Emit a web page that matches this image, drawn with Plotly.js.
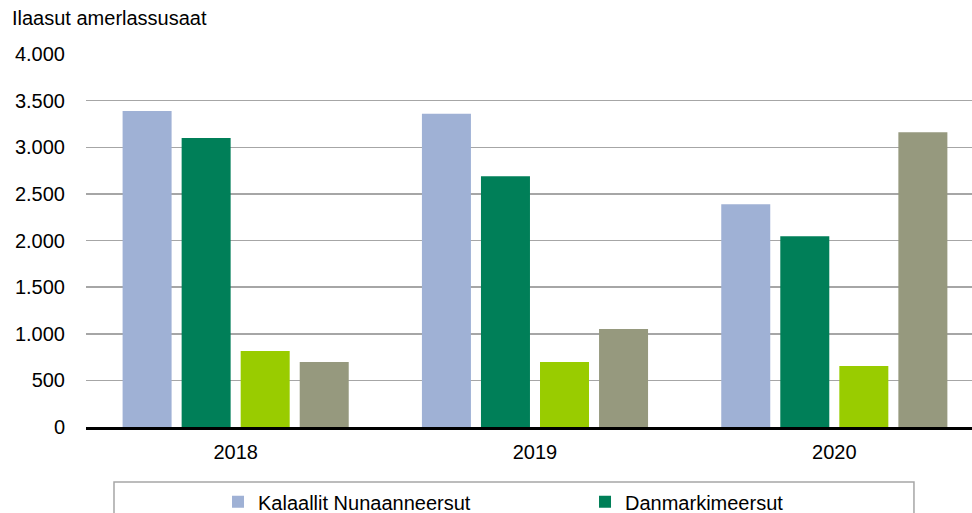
<!DOCTYPE html>
<html>
<head>
<meta charset="utf-8">
<script src="https://cdn.plot.ly/plotly-3.0.1.min.js"></script>
<style>
html,body{margin:0;padding:0;overflow:hidden;background:#fff;}
#chart{width:972px;height:513px;}
</style>
</head>
<body>
<div id="chart"></div>
<script>
const years = ['2018', '2019', '2020'];
const seriesNames = ['Kalaallit Nunaanneersut', 'Danmarkimeersut', 'Nunanit allaneersut', 'Ilisimaneqanngitsut'];
const kalaallit = [3390, 3360, 2390];
const danmark = [3100, 2690, 2045];
const allat = [815, 697, 655];
const ilisimaneqanngitsut = [697, 1050, 3160];
const yTicks = [0, 500, 1000, 1500, 2000, 2500, 3000, 3500, 4000];

const colors = ['#9FB1D5', '#007F58', '#99CC00', '#96997E'];
const values = [kalaallit, danmark, allat, ilisimaneqanngitsut];
// the reference legend only shows its first row; the rest is cut off by the frame
const legendVisible = [true, true, false, false];

const traces = values.map((v, i) => ({
  type: 'bar',
  name: seriesNames[i],
  x: years,
  y: v,
  marker: {color: colors[i]},
  showlegend: legendVisible[i],
  hoverinfo: 'skip'
}));

const font = 'Liberation Sans, Arial, sans-serif';
const layout = {
  width: 972,
  height: 513,
  margin: {l: 86, r: 0, t: 54, b: 86, autoexpand: false},
  paper_bgcolor: '#ffffff',
  plot_bgcolor: '#ffffff',
  separators: ',.',
  barmode: 'group',
  bargap: 0.211,
  bargroupgap: 0.17,
  font: {family: font, size: 20, color: '#000000'},
  xaxis: {
    type: 'category',
    range: [-0.5, 2.46],
    showgrid: false,
    showline: true,
    linecolor: '#000000',
    linewidth: 2.5,
    ticks: '',
    ticklabelstandoff: 5,
    tickfont: {family: font, size: 20, color: '#000000'},
    fixedrange: true
  },
  yaxis: {
    range: [0, 4000],
    tickvals: yTicks,
    tickformat: ',d',
    showgrid: true,
    gridcolor: '#a6a6a6',
    gridwidth: 1.5,
    zeroline: false,
    showline: false,
    ticks: '',
    ticklabelstandoff: 20,
    tickfont: {family: font, size: 20, color: '#000000'},
    fixedrange: true
  },
  showlegend: true,
  legend: {
    orientation: 'h',
    x: 0.149,
    xanchor: 'left',
    y: -0.148,
    yanchor: 'top',
    entrywidth: 322,
    font: {family: font, size: 20, color: '#000000'},
    bgcolor: 'rgba(0,0,0,0)',
    borderwidth: 0,
    traceorder: 'normal'
  },
  shapes: [{
    type: 'rect',
    xref: 'paper', yref: 'paper',
    x0: 0.0316, x1: 0.9345,
    y0: -0.1475, y1: -0.6,
    line: {color: '#a6a6a6', width: 1.5},
    fillcolor: 'rgba(0,0,0,0)',
    layer: 'below'
  }],
  annotations: [{
    text: 'Ilaasut amerlassusaat',
    xref: 'paper', yref: 'paper',
    x: (10 - 86) / 886, xanchor: 'left',
    y: 1.062, yanchor: 'bottom',
    showarrow: false,
    font: {family: font, size: 20, color: '#000000'}
  }]
};

Plotly.newPlot('chart', traces, layout, {displayModeBar: false, staticPlot: true});
</script>
</body>
</html>
